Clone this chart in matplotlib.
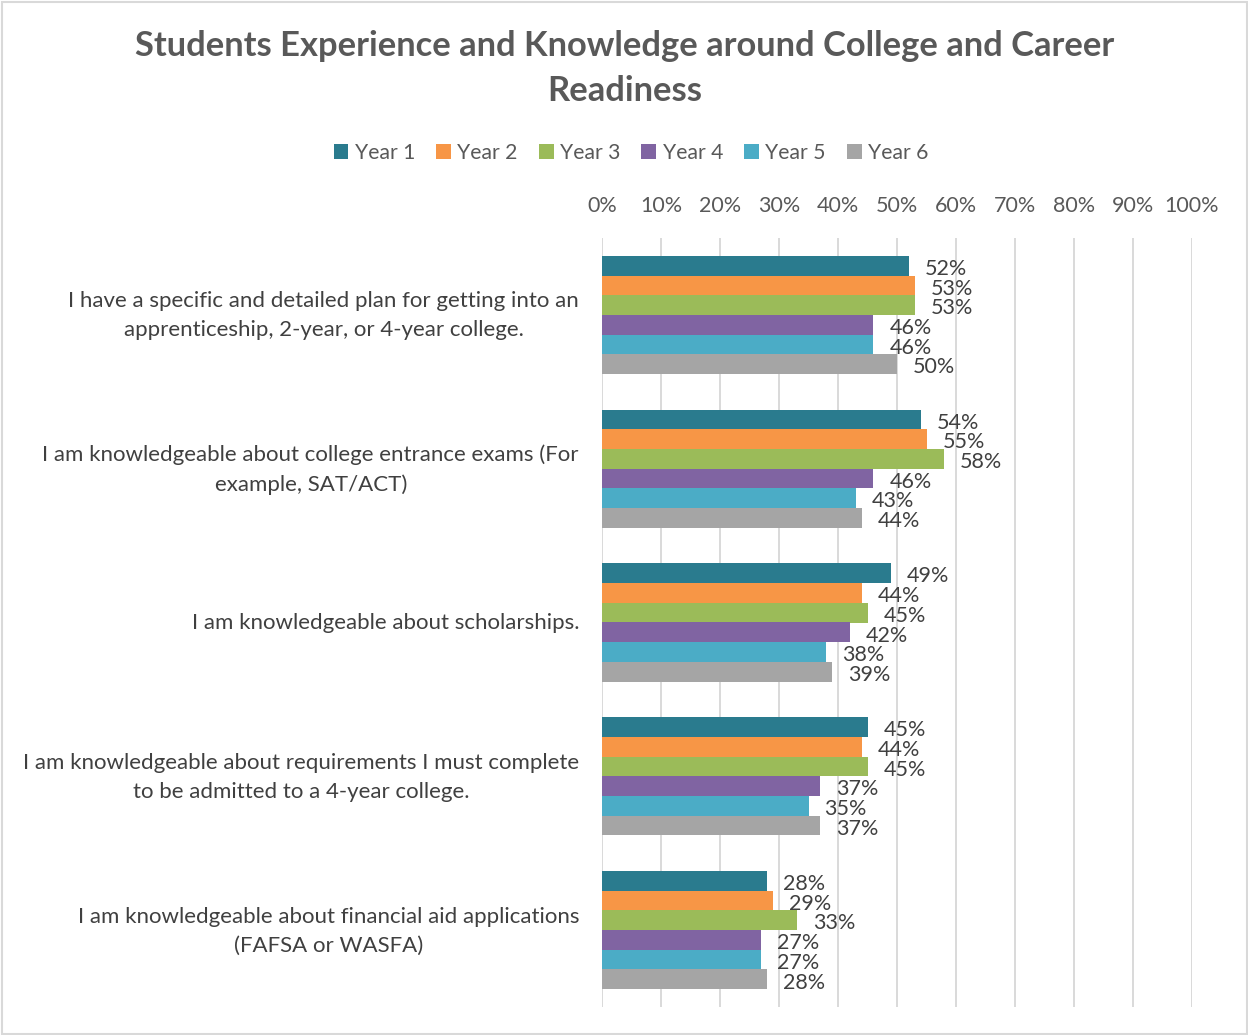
import matplotlib
matplotlib.use("Agg")
import matplotlib.pyplot as plt
from matplotlib.patches import Rectangle, Patch
from matplotlib.transforms import ScaledTranslation

plt.rcParams['font.family'] = ['Lato', 'DejaVu Sans']

categories = [
    "I have a specific and detailed plan for getting into an\napprenticeship, 2-year, or 4-year college.",
    "I am knowledgeable about college entrance exams (For\nexample, SAT/ACT)",
    "I am knowledgeable about scholarships.",
    "I am knowledgeable about requirements I must complete\nto be admitted to a 4-year college.",
    "I am knowledgeable about financial aid applications\n(FAFSA or WASFA)",
]
series_names = ["Year 1", "Year 2", "Year 3", "Year 4", "Year 5", "Year 6"]
year1 = [52, 54, 49, 45, 28]
year2 = [53, 55, 44, 44, 29]
year3 = [53, 58, 45, 45, 33]
year4 = [46, 46, 42, 37, 27]
year5 = [46, 43, 38, 35, 27]
year6 = [50, 44, 39, 37, 28]
series_values = [year1, year2, year3, year4, year5, year6]
colors = ["#2A7B8E", "#F79646", "#9BBB59", "#8064A2", "#4BACC6", "#A5A5A5"]
tick_values = list(range(0, 101, 10))
tick_labels = [f"{t}%" for t in tick_values]

W, H = 1248, 1035
fig = plt.figure(figsize=(W / 100, H / 100), dpi=100)
fig.patch.set_facecolor("white")

# chart-area frame
fig.add_artist(Rectangle((1.5 / W, 1.5 / H), (W - 3) / W, (H - 3) / H,
                         transform=fig.transFigure, fill=False,
                         edgecolor="#D9D9D9", linewidth=1.5))

x0, x1 = 602, 1192
y_top, y_bot = 238, 1007
ax = fig.add_axes([x0 / W, 1 - y_bot / H, (x1 - x0) / W, (y_bot - y_top) / H])

n = len(series_names)
bar_h = 0.128
for i, (name, vals, col) in enumerate(zip(series_names, series_values, colors)):
    ys = [c + (i - (n - 1) / 2) * bar_h for c in range(len(categories))]
    bars = ax.barh(ys, vals, height=bar_h, color=col, label=name, zorder=2)
    for b, v in zip(bars, vals):
        ax.annotate(f"{v}%", (b.get_width(), b.get_y() + b.get_height() / 2),
                    xytext=(11.5, -2.3), textcoords="offset points",
                    ha="left", va="center", fontsize=15.5, color="#404040")

ax.set_xlim(0, 100)
ax.set_ylim(len(categories) - 0.5, -0.5)
ax.set_xticks(tick_values)
ax.set_xticklabels(tick_labels)
ax.xaxis.tick_top()
ax.tick_params(axis="x", length=0, pad=15.5, labelsize=15.5, labelcolor="#595959")

# category labels, right-aligned block with centred lines
ax.set_yticks(range(len(categories)))
ax.set_yticklabels([])
ax.tick_params(axis="y", length=0)
label_tf = ax.get_yaxis_transform() + ScaledTranslation(-23 / 100, -1 / 100, fig.dpi_scale_trans)
for c, text in enumerate(categories):
    ax.text(0, c, text, transform=label_tf, ha="right", va="center",
            multialignment="center", fontsize=16, color="#404040", linespacing=1.55)

ax.grid(axis="x", color="#D9D9D9", linewidth=1.4, zorder=0)
ax.set_axisbelow(True)
for s in ax.spines.values():
    s.set_visible(False)

handles = [Patch(facecolor=c, edgecolor="none") for c in colors]
fig.legend(handles, series_names, loc="center", bbox_to_anchor=(631 / W, 1 - 153 / H),
           ncol=6, frameon=False, fontsize=15.2, handlelength=0.7, handleheight=0.7,
           handletextpad=0.3, columnspacing=1.0, labelcolor="#595959")

fig.text(625 / W, 1 - 46 / H, "Students Experience and Knowledge around College and Career",
         ha="center", va="center", fontsize=24.8, fontweight="bold", color="#595959")
fig.text(625 / W, 1 - 91 / H, "Readiness",
         ha="center", va="center", fontsize=24.8, fontweight="bold", color="#595959")

fig.savefig("out.png", dpi=100, facecolor="white")
